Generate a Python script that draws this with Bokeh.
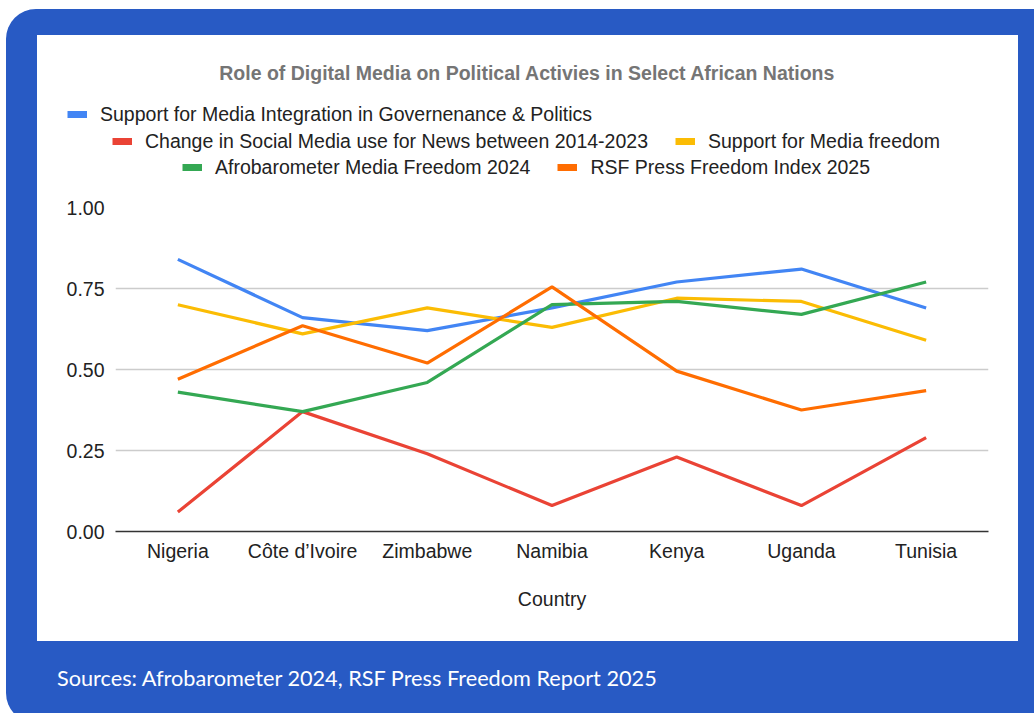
from bokeh.plotting import figure
from bokeh.models import (Legend, LegendItem, Label, FixedTicker, NumeralTickFormatter,
                          Range1d, FactorRange, Div, Spacer)
from bokeh.layouts import column, row
from bokeh.embed import file_html
from bokeh.resources import INLINE

countries = ["Nigeria", "Côte d’Ivoire", "Zimbabwe", "Namibia", "Kenya", "Uganda", "Tunisia"]
support_integration = [0.84, 0.66, 0.62, 0.69, 0.77, 0.81, 0.69]
social_media_change = [0.06, 0.37, 0.24, 0.08, 0.23, 0.08, 0.29]
support_freedom = [0.70, 0.61, 0.69, 0.63, 0.72, 0.71, 0.59]
afrobarometer = [0.43, 0.37, 0.46, 0.70, 0.71, 0.67, 0.77]
rsf_index = [0.47, 0.635, 0.52, 0.755, 0.495, 0.375, 0.435]
y_ticks = [0.0, 0.25, 0.5, 0.75, 1.0]

names = ["Support for Media Integration in Governenance & Politics",
         "Change in Social Media use for News between 2014-2023",
         "Support for Media freedom",
         "Afrobarometer Media Freedom 2024",
         "RSF Press Freedom Index 2025"]
colors = ["#4285f4", "#ea4335", "#fbbc04", "#34a853", "#ff6d01"]
series = [support_integration, social_media_change, support_freedom, afrobarometer, rsf_index]

FONT = "Liberation Sans"
FS = "19.5px"
NAN = float("nan")

# ---- header: title + legend ----
h = figure(width=981, height=160, x_range=Range1d(0, 1), y_range=Range1d(0, 1),
           output_backend="svg", toolbar_location=None,
           min_border_left=0, min_border_right=0, min_border_top=0, min_border_bottom=0)
h.frame_align = False
h.axis.visible = False
h.grid.visible = False
h.outline_line_color = None
h.border_fill_color = "white"
h.background_fill_color = "white"

proxies = [h.line([NAN, NAN], [NAN, NAN], line_color=colors[i], line_width=7) for i in range(5)]

def make_legend(idx, x, y):
    lg = Legend(items=[LegendItem(label=names[i], renderers=[proxies[i]]) for i in idx],
                location=(x, y), orientation="horizontal")
    lg.padding = 0
    lg.margin = 0
    lg.spacing = 27
    lg.glyph_width = 20
    lg.glyph_height = 24
    lg.label_height = 24
    lg.label_standoff = 13
    lg.border_line_color = None
    lg.background_fill_alpha = 0
    lg.label_text_font = FONT
    lg.label_text_font_size = FS
    lg.label_text_color = "#222222"
    h.add_layout(lg, "center")

make_legend([0], 30, 69)
make_legend([1, 2], 75, 42)
make_legend([3, 4], 145, 16)

h.add_layout(Label(x=490, y=123, x_units="screen", y_units="screen",
                   text="Role of Digital Media on Political Activies in Select African Nations",
                   text_align="center", text_baseline="middle", text_font=FONT,
                   text_font_size="19.5px", text_font_style="bold", text_color="#757575"))

# ---- main chart ----
p = figure(width=981, height=446, x_range=FactorRange(*countries, range_padding=0),
           y_range=Range1d(0, 1), output_backend="svg", toolbar_location=None,
           min_border_left=78, min_border_right=30, min_border_top=12, min_border_bottom=110)
p.frame_align = False
p.border_fill_color = "white"
p.background_fill_color = "white"
p.outline_line_color = None

for i in range(5):
    p.line(countries, series[i], line_color=colors[i], line_width=3.2)

p.xgrid.grid_line_color = None
p.ygrid.grid_line_color = "#cccccc"
p.ygrid.grid_line_width = 1.5
p.yaxis.ticker = FixedTicker(ticks=y_ticks)
p.yaxis.formatter = NumeralTickFormatter(format="0.00")
p.yaxis.axis_line_color = None
p.xaxis.axis_line_color = "#333333"
p.xaxis.axis_line_width = 1.5
p.yaxis.major_label_standoff = 11
p.xaxis.major_label_standoff = 8
p.xaxis.axis_label = "Country"
p.xaxis.axis_label_standoff = 23
for ax in (p.xaxis, p.yaxis):
    ax.major_tick_line_color = None
    ax.minor_tick_line_color = None
    ax.major_tick_out = 0
    ax.major_tick_in = 0
    ax.minor_tick_out = 0
    ax.major_label_text_font = FONT
    ax.major_label_text_font_size = FS
    ax.major_label_text_color = "#222222"
    ax.axis_label_text_font = FONT
    ax.axis_label_text_font_size = FS
    ax.axis_label_text_font_style = "normal"
    ax.axis_label_text_color = "#222222"

src = Div(text="Sources: Afrobarometer 2024, RSF Press Freedom Report 2025", width=981, height=72,
          styles={"color": "white", "font-family": "Lato", "font-size": "21.7px",
                  "line-height": "64px", "padding-left": "15px"})

white_panel = column(h, p, styles={"background-color": "white"})
blue = column(Spacer(height=26), row(Spacer(width=31), column(white_panel, src), Spacer(width=16)),
              styles={"background-color": "#285ac4", "border-radius": "30px 0 0 30px"})
layout = column(Spacer(height=9), row(Spacer(width=6), blue))

open("out.html", "w").write(file_html(layout, INLINE))
